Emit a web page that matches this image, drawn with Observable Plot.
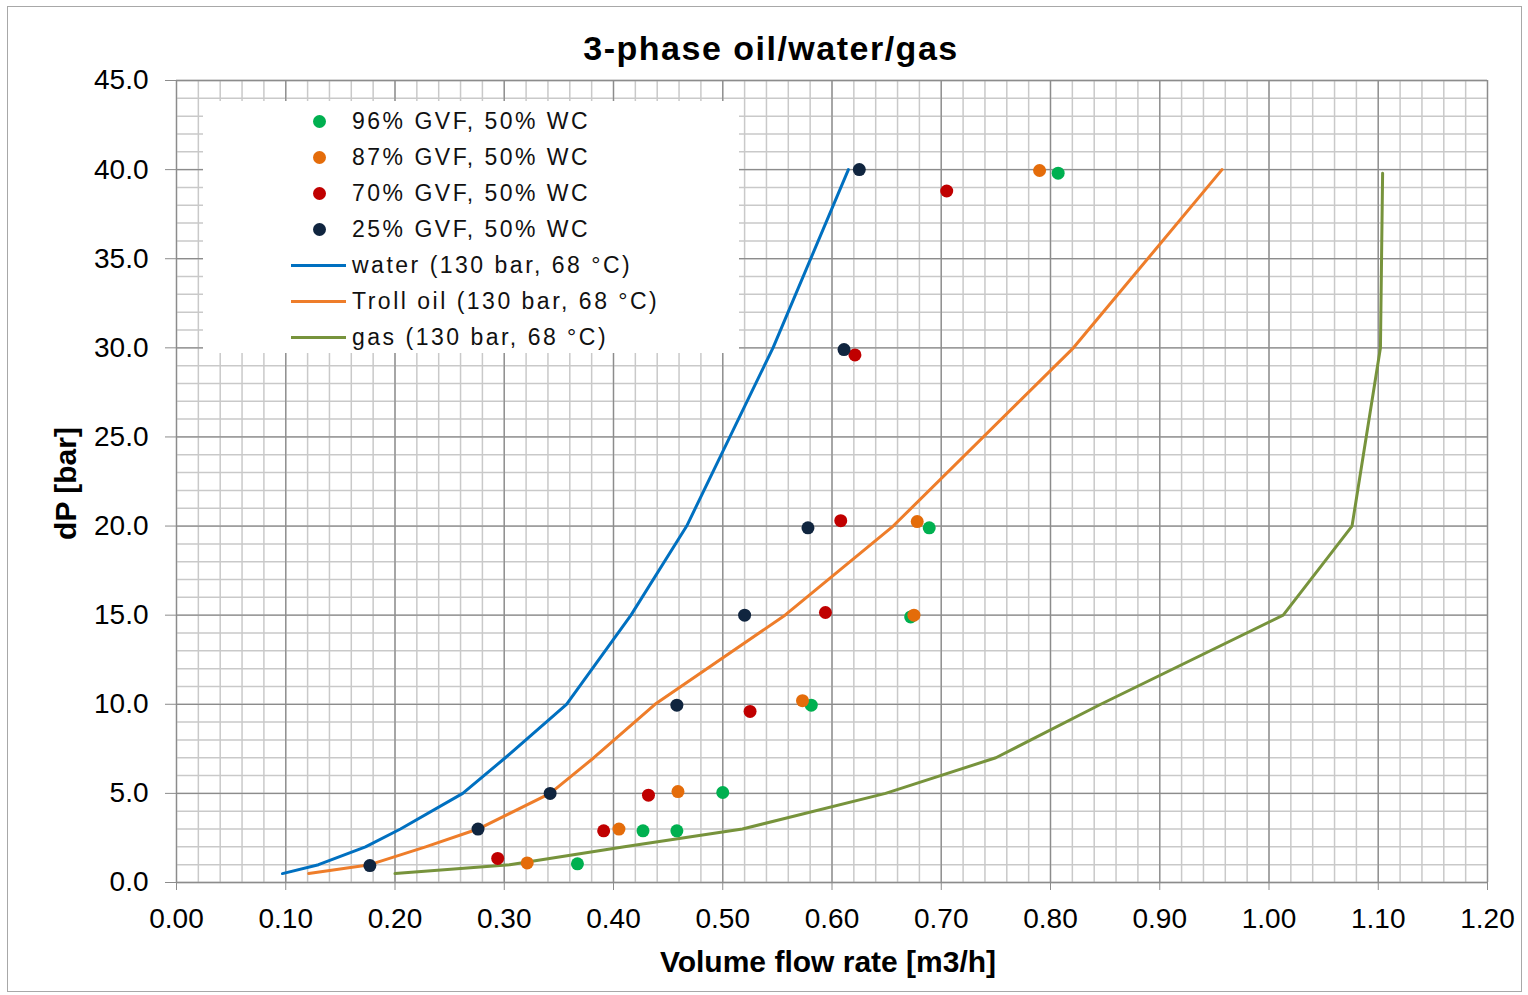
<!DOCTYPE html>
<html>
<head>
<meta charset="utf-8">
<script src="https://cdn.jsdelivr.net/npm/d3@7"></script>
<script src="https://cdn.jsdelivr.net/npm/@observablehq/plot@0.6"></script>
<style>
  body { margin: 0; background: #fff; }
  #wrap { position: relative; width: 1528px; height: 995px; font-family: "Liberation Sans", Arial, sans-serif; color: #000; }
  #chart svg { display: block; }
  #border { position: absolute; left: 7px; top: 6px; width: 1513px; height: 984px; border: 1.5px solid #a8a8a8; pointer-events: none; }
  #title { position: absolute; left: 771px; top: 31px; transform: translateX(-50%); font-size: 34px; line-height: 34px; font-weight: bold; letter-spacing: 1.5px; white-space: nowrap; }
  #legend { position: absolute; left: 203px; top: 101px; width: 536px; height: 252px; background: #fff; }
  .sw { position: absolute; }
  .lab { position: absolute; left: 149px; font-size: 23px; line-height: 23px; letter-spacing: 2.5px; white-space: nowrap; color: #111; }
</style>
</head>
<body>
<div id="wrap">
  <div id="chart"></div>
  <div id="title">3-phase oil/water/gas</div>
  <div id="legend"></div>
  <div id="border"></div>
</div>
<script>
// ---- axis ticks ----
const xTicks = [0.0, 0.1, 0.2, 0.3, 0.4, 0.5, 0.6, 0.7, 0.8, 0.9, 1.0, 1.1, 1.2];
const yTicks = [0, 5, 10, 15, 20, 25, 30, 35, 40, 45];
const xMinorTicks = d3.range(0, 61).map(i => i / 50);
const yMinorTicks = d3.range(0, 46);

// ---- model curves (volume flow rate [m3/h], dP [bar]) ----
const waterQ  = [0.097, 0.130, 0.173, 0.205, 0.262, 0.301, 0.357, 0.416, 0.467, 0.546, 0.615];
const waterDP = [0.5,   1,     2,     3,     5,     7,     10,    15,    20,    30,    40];
const oilQ    = [0.121, 0.177, 0.228, 0.276, 0.342, 0.382, 0.438, 0.557, 0.656, 0.821, 0.957];
const oilDP   = [0.5,   1,     2,     3,     5,     7,     10,    15,    20,    30,    40];
const gasQ    = [0.200, 0.305, 0.410, 0.518, 0.649, 0.750, 0.846, 1.013, 1.076, 1.102, 1.104];
const gasDP   = [0.5,   1,     2,     3,     5,     7,     10,    15,    20,    30,    39.8];

// ---- measured points ----
const gvf96Q  = [0.367, 0.427, 0.458, 0.500, 0.581, 0.672, 0.689, 0.807];
const gvf96DP = [1.05,  2.9,   2.9,   5.05,  9.95,  14.9,  19.9,  39.8];
const gvf87Q  = [0.321, 0.405, 0.459, 0.573, 0.675, 0.678, 0.790];
const gvf87DP = [1.1,   3.0,   5.1,   10.2,  15.0,  20.25, 39.95];
const gvf70Q  = [0.294, 0.391, 0.432, 0.525, 0.594, 0.608, 0.621, 0.705];
const gvf70DP = [1.35,  2.9,   4.9,   9.6,   15.15, 20.3,  29.6,  38.8];
const gvf25Q  = [0.177, 0.276, 0.342, 0.458, 0.520, 0.578, 0.611, 0.625];
const gvf25DP = [0.95,  3.0,   5.0,   9.95,  15.0,  19.9,  29.9,  40.0];

// ---- series names & colours ----
const lineNames  = ["water (130 bar, 68 °C)", "Troll oil (130 bar, 68 °C)", "gas (130 bar, 68 °C)"];
const lineColors = ["#0070C0", "#EE7D2A", "#77933C"];
const dotNames   = ["96% GVF, 50% WC", "87% GVF, 50% WC", "70% GVF, 50% WC", "25% GVF, 50% WC"];
const dotColors  = ["#00B050", "#E46C0A", "#C00000", "#10253F"];

const toRows = (qs, dps, name) => qs.map((q, i) => ({q, dp: dps[i], name}));
const lines = [
  toRows(waterQ, waterDP, lineNames[0]),
  toRows(oilQ, oilDP, lineNames[1]),
  toRows(gasQ, gasDP, lineNames[2])
];
const dots = [
  toRows(gvf96Q, gvf96DP, dotNames[0]),
  toRows(gvf87Q, gvf87DP, dotNames[1]),
  toRows(gvf70Q, gvf70DP, dotNames[2]),
  toRows(gvf25Q, gvf25DP, dotNames[3])
];

const fontFamily = '"Liberation Sans", Arial, sans-serif';

const chart = Plot.plot({
  width: 1528,
  height: 995,
  marginLeft: 176,
  marginRight: 41,
  marginTop: 80,
  marginBottom: 113,
  style: { fontFamily, fontSize: "28px", color: "#000", background: "transparent" },
  x: { domain: [0, 1.2] },
  y: { domain: [0, 45] },
  marks: [
    Plot.gridX(xMinorTicks, { stroke: "#c9c9c9", strokeOpacity: 1, strokeWidth: 1.5 }),
    Plot.gridY(yMinorTicks, { stroke: "#c9c9c9", strokeOpacity: 1, strokeWidth: 1.5 }),
    Plot.gridX(xTicks, { stroke: "#8c8c8c", strokeOpacity: 1, strokeWidth: 1.3 }),
    Plot.gridY(yTicks, { stroke: "#8c8c8c", strokeOpacity: 1, strokeWidth: 1.3 }),
    Plot.axisX(xTicks, { tickSize: 8, tickPadding: 18, tickFormat: d3.format(".2f"), fontSize: 28, stroke: "#8c8c8c", fill: "#000", label: null }),
    Plot.axisY(yTicks, { tickSize: 11, tickPadding: 17, tickFormat: d3.format(".1f"), fontSize: 28, stroke: "#8c8c8c", fill: "#000", label: null }),
    ...lines.map((rows, i) => Plot.line(rows, { x: "q", y: "dp", stroke: lineColors[i], strokeWidth: 3, strokeLinejoin: "round" })),
    ...dots.map((rows, i) => Plot.dot(rows, { x: "q", y: "dp", fill: dotColors[i], r: 6.5 })),
    Plot.text(["Volume flow rate [m3/h]"], { frameAnchor: "bottom", dy: 89, dx: -4, fontSize: 30, fontWeight: "bold", fill: "#000" }),
    Plot.text(["dP [bar]"], { frameAnchor: "left", textAnchor: "middle", dx: -110, dy: 2, rotate: -90, fontSize: 30, fontWeight: "bold", fill: "#000" })
  ]
});
document.getElementById("chart").appendChild(chart);

// ---- legend ----
const legend = document.getElementById("legend");
const legendTop = 101, legendLeft = 203;
const rowCenters = [121, 157, 193, 229, 265, 301, 337];
const items = [
  ...dotNames.map((n, i) => ({ name: n, color: dotColors[i], kind: "dot" })),
  ...lineNames.map((n, i) => ({ name: n, color: lineColors[i], kind: "line" }))
];
items.forEach((it, i) => {
  const cy = rowCenters[i] - legendTop;
  const sw = document.createElement("div");
  sw.className = "sw";
  if (it.kind === "dot") {
    Object.assign(sw.style, { left: (319 - 6.5 - legendLeft) + "px", top: (cy - 6.5) + "px", width: "13px", height: "13px", borderRadius: "50%", background: it.color });
  } else {
    Object.assign(sw.style, { left: (291 - legendLeft) + "px", top: (cy - 1.5) + "px", width: "55px", height: "3px", background: it.color });
  }
  legend.appendChild(sw);
  const lab = document.createElement("div");
  lab.className = "lab";
  lab.textContent = it.name;
  lab.style.top = (cy - 11) + "px";
  legend.appendChild(lab);
});
</script>
</body>
</html>
